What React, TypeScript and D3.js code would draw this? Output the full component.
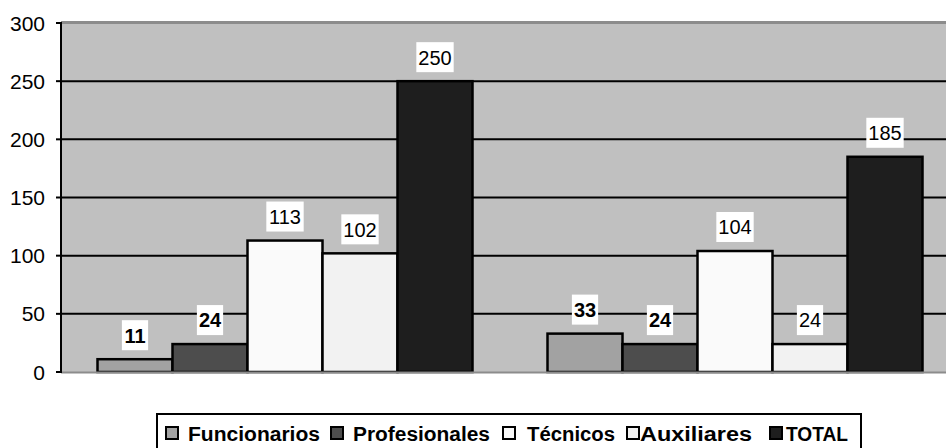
import React from "react";
import * as d3 from "d3";

const categories = ["Grupo 1", "Grupo 2"];
const seriesNames = ["Funcionarios", "Profesionales", "Técnicos", "Auxiliares", "TOTAL"];
const funcionarios = [11, 33];
const profesionales = [24, 24];
const tecnicos = [113, 104];
const auxiliares = [102, 24];
const total = [250, 185];
const yTicks = [0, 50, 100, 150, 200, 250, 300];

const seriesValues = [funcionarios, profesionales, tecnicos, auxiliares, total];
const seriesColors = ["#a2a2a2", "#4d4d4d", "#fafafa", "#f2f2f2", "#1e1e1e"];
const labelBold = [true, true, false, false, false];
const legendMarkerX = [166, 331, 503, 627, 770];
const legendTextX = [188, 353, 527, 640, 786];
const legendTextW = [132, 137, 88, 112, 62];

const W = 946;
const H = 448;
const plotLeft = 61;
const plotRight = 960;
const plotTop = 23;
const plotBottom = 372;
const FONT = "'Liberation Sans', Arial, Helvetica, sans-serif";

export default function App() {
  const x0 = d3.scaleBand<string>().domain(categories).range([plotLeft - 1, plotRight]).paddingInner(0).paddingOuter(0);
  const x1 = d3
    .scaleBand<string>()
    .domain(seriesNames)
    .range([0, x0.bandwidth()])
    .paddingOuter(0.5)
    .paddingInner(0);
  const y = d3.scaleLinear().domain([0, 300]).range([plotBottom, plotTop]);

  const labelFont = 20;
  const boxH = 30;

  return (
    <svg width={W} height={H} style={{ position: "absolute", left: 0, top: 0, display: "block" }} fontFamily={FONT}>
      <rect x={0} y={0} width={W} height={H} fill="#ffffff" />
      <rect x={plotLeft} y={plotTop} width={plotRight - plotLeft} height={plotBottom - plotTop} fill="#c0c0c0" />
      <line x1={plotLeft} x2={plotRight} y1={plotTop - 0.5} y2={plotTop - 0.5} stroke="#8c8c8c" strokeWidth={3} />
      {yTicks.filter((t) => t > 0 && t < 300).map((t) => (
        <line key={"g" + t} x1={plotLeft} x2={plotRight} y1={y(t)} y2={y(t)} stroke="#000" strokeWidth={2} />
      ))}
      {categories.map((c, ci) => (
        <g key={c}>
          {seriesNames.map((s, si) => {
            const v = seriesValues[si][ci];
            const bx = (x0(c) as number) + (x1(s) as number);
            const bw = x1.bandwidth();
            return (
              <rect key={s} x={bx} y={y(v)} width={bw} height={plotBottom - y(v)} fill={seriesColors[si]} stroke="#000" strokeWidth={2.5} />
            );
          })}
        </g>
      ))}
      <line x1={plotLeft} x2={plotRight} y1={plotBottom + 0.5} y2={plotBottom + 0.5} stroke="#8c8c8c" strokeWidth={2} />
      {categories.map((c, ci) => (
        <g key={"l" + c}>
          {seriesNames.map((s, si) => {
            const v = seriesValues[si][ci];
            const cx = (x0(c) as number) + (x1(s) as number) + x1.bandwidth() / 2;
            const txt = String(v);
            const tw = txt.length * labelFont * 0.556;
            const bw = tw + 4;
            const bottom = y(v) - 9;
            return (
              <g key={s}>
                <rect x={cx - bw / 2} y={bottom - boxH} width={bw} height={boxH} fill="#fff" />
                <text
                  x={cx}
                  y={bottom - boxH / 2 + labelFont * 0.37}
                  textAnchor="middle"
                  fontSize={labelFont}
                  fontWeight={labelBold[si] ? "bold" : "normal"}
                  fill="#000"
                >
                  {txt}
                </text>
              </g>
            );
          })}
        </g>
      ))}
      <line x1={plotLeft} x2={plotLeft} y1={plotTop - 1} y2={plotBottom + 1} stroke="#000" strokeWidth={2} />
      {yTicks.map((t) => (
        <g key={"t" + t}>
          <line x1={plotLeft - 5} x2={plotLeft} y1={y(t)} y2={y(t)} stroke="#000" strokeWidth={2} />
          <text x={plotLeft - 16} y={y(t) + 7.5} textAnchor="end" fontSize={21} fill="#000">
            {t}
          </text>
        </g>
      ))}
      <rect x={157} y={414} width={704} height={40} fill="#fff" stroke="#000" strokeWidth={2} />
      {seriesNames.map((s, si) => (
        <g key={"lg" + s}>
          <rect x={legendMarkerX[si]} y={427} width={12} height={12} fill={seriesColors[si]} stroke="#000" strokeWidth={2} />
          <text
            x={legendTextX[si]}
            y={441}
            fontSize={20}
            fontWeight="bold"
            fill="#000"
            textLength={legendTextW[si]}
            lengthAdjust="spacingAndGlyphs"
          >
            {s}
          </text>
        </g>
      ))}
    </svg>
  );
}
